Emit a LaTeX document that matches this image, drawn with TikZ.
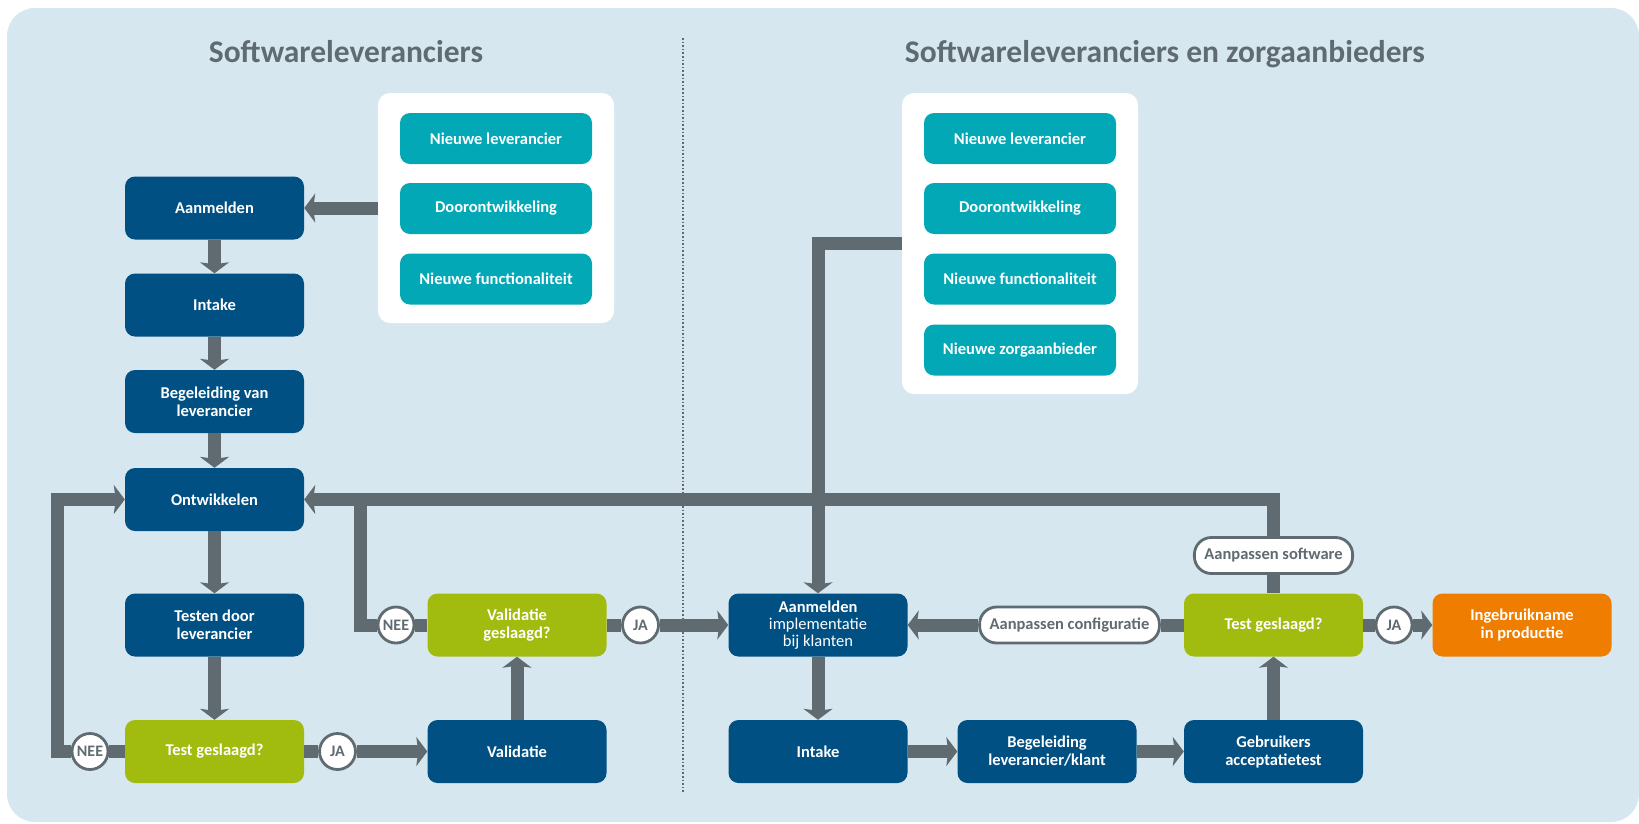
\documentclass[tikz,border=0pt]{standalone}
\usepackage{fontspec}
\setmainfont{Carlito}
\usetikzlibrary{arrows.meta}

\definecolor{achtergrond}{HTML}{D7E7EF}
\definecolor{donkerblauw}{HTML}{005083}
\definecolor{turkoois}{HTML}{02A8B6}
\definecolor{groen}{HTML}{A2BB0F}
\definecolor{oranje}{HTML}{EF7D00}
\definecolor{grijs}{HTML}{5F6B71}

\begin{document}
\begin{tikzpicture}[x=1pt, y=-1pt]
                \useasboundingbox (0,0) rectangle (1639,823);
                \fill[achtergrond, rounded corners=28pt] (7,8) rectangle (1639,822);
                \draw[grijs, dotted, line width=1.6pt] (683,38) -- (683,792);

                \begin{scope}[every node/.style={anchor=base, text=grijs, font=\fontsize{31.5}{34}\selectfont\bfseries}]
                        \node (T1) at (346,62) {Softwareleveranciers};
                        \node (T2) at (1165,62) {Softwareleveranciers en zorgaanbieders};
                \end{scope}

                \begin{scope}[every node/.style={fill=white, rounded corners=12pt, minimum width=236pt, inner sep=0}]
                        \node (W1) at (496,208) [minimum height=230pt] {};
                        \node (W2) at (1020,243.5) [minimum height=301pt] {};
                \end{scope}

                \begin{scope}[every node/.style={fill=turkoois, rounded corners=10pt, minimum width=192pt, minimum height=51pt, inner sep=0, text=white, font=\fontsize{16.5}{18}\selectfont\bfseries}]
                        \node (N1) at (496,138.5) {Nieuwe leverancier};
                        \node (N2) at (496,208.5) {Doorontwikkeling};
                        \node (N3) at (496,279) {Nieuwe functionaliteit};

                        \node (N4) at (1020,138.5) {Nieuwe leverancier};
                        \node (N5) at (1020,208.5) {Doorontwikkeling};
                        \node (N6) at (1020,279) {Nieuwe functionaliteit};
                        \node (N7) at (1020,350) {Nieuwe zorgaanbieder};
                \end{scope}

                \begin{scope}[every node/.style={fill=donkerblauw, rounded corners=10pt, minimum width=179pt, minimum height=63pt, inner sep=0, align=center, text=white, font=\fontsize{16.5}{18}\selectfont\bfseries}]
                        \node (B1) at (214.5,208) {Aanmelden};
                        \node (B2) at (214.5,305) {Intake};
                        \node (B3) at (214.5,401.5) {Begeleiding van\\leverancier};
                        \node (B4) at (214.5,499.5) {Ontwikkelen};
                        \node (B5) at (214.5,625) {Testen door\\leverancier};
                        \node (G1) at (214.5,751.5) [fill=groen] {Test geslaagd?};
                        \node (B6) at (517,751.5) {Validatie};
                        \node (G2) at (517,625) [fill=groen] {Validatie\\geslaagd?};

                        \node (B7) at (818,625) [font=\fontsize{16.5}{17}\selectfont] {\textbf{Aanmelden}\\implementatie\\bij klanten};
                        \node (B8) at (818,751.5) {Intake};
                        \node (B9) at (1047,751.5) {Begeleiding\\leverancier/klant};
                        \node (B10) at (1273.5,751.5) {Gebruikers\\acceptatietest};
                        \node (G3) at (1273.5,625) [fill=groen] {Test geslaagd?};
                        \node (O1) at (1522,625) [fill=oranje] {Ingebruikname\\in productie};
                \end{scope}

                \begin{scope}[every node/.style={circle, draw=grijs, line width=2.8pt, fill=white, minimum size=36pt, inner sep=0, text=grijs, font=\fontsize{16}{16}\selectfont\bfseries}]
                        \node (C1) at (90,751.5) {NEE};
                        \node (C2) at (337.5,751.5) {JA};
                        \node (C3) at (396,625) {NEE};
                        \node (C4) at (640.5,625) {JA};
                        \node (C5) at (1394,625) {JA};
                \end{scope}

                \begin{scope}[every node/.style={draw=grijs, line width=2.8pt, fill=white, rounded corners=17pt, minimum height=36pt, inner xsep=10pt, text=grijs, font=\fontsize{16.5}{18}\selectfont\bfseries}]
                        \node (P1) at (1069.5,625) {Aanpassen configuratie};
                        \node (P2) at (1273.5,555.5) {Aanpassen software};
                \end{scope}

                \coordinate (j0) at (57,499.5);
                \coordinate (j1) at (360,499.5);

                \begin{scope}[every path/.style={draw=grijs, line width=13pt, -{Stealth[width=29pt,length=11pt,inset=2pt]}}]
                        \path (W1) edge (B1);
                        \path (B1) edge (B2);
                        \path (B2) edge (B3);
                        \path (B3) edge (B4);
                        \path (B4) edge (B5);
                        \path (B5) edge (G1);

                        \path (G1) edge[-] (C1);
                        \draw (C1) -| (j0) -- (B4);
                        \path (G1) edge[-] (C2);
                        \path (C2) edge (B6);
                        \path (B6) edge (G2);
                        \path (G2) edge[-] (C3);
                        \draw[-] (C3) -| (j1);
                        \path (G2) edge[-] (C4);
                        \path (C4) edge (B7);

                        \draw (W2) -| (B7);
                        \path (B7) edge (B8);
                        \path (B8) edge (B9);
                        \path (B9) edge (B10);
                        \path (B10) edge (G3);
                        \path (G3) edge[-] (P1);
                        \path (P1) edge (B7);
                        \path (G3) edge[-] (P2);
                        \draw (P2) |- (B4);
                        \path (G3) edge[-] (C5);
                        \path (C5) edge (O1);
                \end{scope}
        \end{tikzpicture}
\end{document}
